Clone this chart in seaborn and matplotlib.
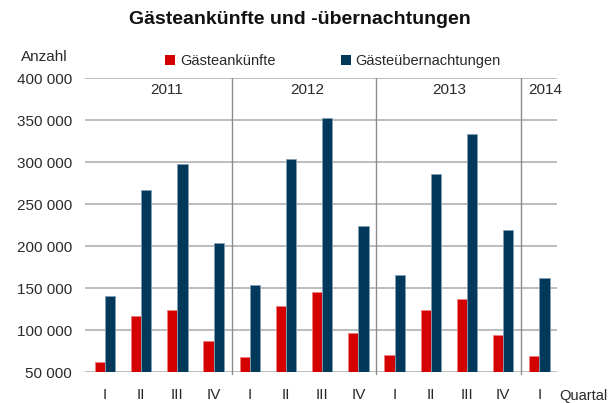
import matplotlib
matplotlib.use("Agg")
import matplotlib.pyplot as plt
from matplotlib.patches import Patch
import seaborn as sns
import pandas as pd

# ---- data ----
years = ["2011"] * 4 + ["2012"] * 4 + ["2013"] * 4 + ["2014"]
quarters = ["I", "II", "III", "IV"] * 3 + ["I"]
ankuenfte = [62000, 117000, 124000, 87000,
             68000, 128000, 145000, 97000,
             70000, 124000, 137000, 94000,
             69000]
uebernachtungen = [141000, 267000, 298000, 203000,
                   154000, 304000, 352000, 224000,
                   166000, 286000, 333000, 219000,
                   162000]
series_names = ["Gästeankünfte", "Gästeübernachtungen"]
year_labels = ["2011", "2012", "2013", "2014"]
year_label_x = [1.7, 5.6, 9.5, 12.15]
separators = [3.5, 7.5, 11.5]
y_ticks = [50000, 100000, 150000, 200000, 250000, 300000, 350000, 400000]

RED = "#d40000"
BLUE = "#02395a"

periods = [f"{y} {q}" for y, q in zip(years, quarters)]
df = pd.DataFrame({
    "period": periods * 2,
    "value": ankuenfte + uebernachtungen,
    "series": [series_names[0]] * len(periods) + [series_names[1]] * len(periods),
})

sns.set_theme(style="white")
plt.rcParams["font.family"] = ["Liberation Sans", "DejaVu Sans"]
TXT = "#2a2a2a"

fig = plt.figure(figsize=(6.09, 4.03), dpi=100)
W, H = 609, 403
left, right, top, bottom = 85, 557, 78, 372
ax = fig.add_axes([left / W, 1 - bottom / H, (right - left) / W, (bottom - top) / H])

sns.barplot(data=df, x="period", y="value", hue="series", order=periods,
            hue_order=series_names, palette=[RED, BLUE], width=0.56, gap=0,
            saturation=1, legend=False, ax=ax, zorder=3)

edge_cols = ["#f08080", "#7f9fb5"]
for cont, ec in zip(ax.containers, edge_cols):
    for bar in cont:
        bar.set_edgecolor(ec)
        bar.set_linewidth(0.6)

ax.set_ylim(50000, 400000)
ax.set_xlim(-0.552, 12.486)
ax.set_yticks(y_ticks)
ax.set_yticklabels([f"{v:,}".replace(",", " ") for v in y_ticks])
ax.set_xticks(range(len(periods)))
ax.set_xticklabels(quarters)
ax.tick_params(axis="both", length=0, labelsize=11, colors=TXT)
ax.tick_params(axis="y", pad=9.5)
ax.tick_params(axis="x", pad=11.5)
ax.set_xlabel("")
ax.set_ylabel("")
for s in ax.spines.values():
    s.set_visible(False)
for v in y_ticks:
    ax.axhline(v, color="#b0b0b0", lw=1.2, zorder=1)
for sx in separators:
    ax.plot([sx, sx], [400000, 48000], color="#8c8c8c", lw=1.0, zorder=2, clip_on=False)
for lab, lx in zip(year_labels, year_label_x):
    ax.text(lx, 386000, lab, ha="center", va="center", fontsize=11, color=TXT)

fig.text(300 / W, 1 - 20 / H, "Gästeankünfte und -übernachtungen", ha="center", va="center",
         fontsize=14, fontweight="bold", color="#111111")
fig.text(44 / W, 1 - 57 / H, "Anzahl", ha="center", va="center", fontsize=11, color=TXT)
fig.text(559 / W, 1 - 396 / H, "Quartal", ha="left", va="center", fontsize=10.5, color=TXT)

handles = [Patch(facecolor=RED, edgecolor="none"), Patch(facecolor=BLUE, edgecolor="none")]
leg = fig.legend(handles, series_names, loc="center", bbox_to_anchor=(333 / W, 1 - 61 / H),
                 ncol=2, frameon=False, handlelength=0.7, handleheight=0.7,
                 handletextpad=0.3, columnspacing=4.5, fontsize=10.5)
for t in leg.get_texts():
    t.set_color(TXT)

fig.savefig("out.png", dpi=100)
